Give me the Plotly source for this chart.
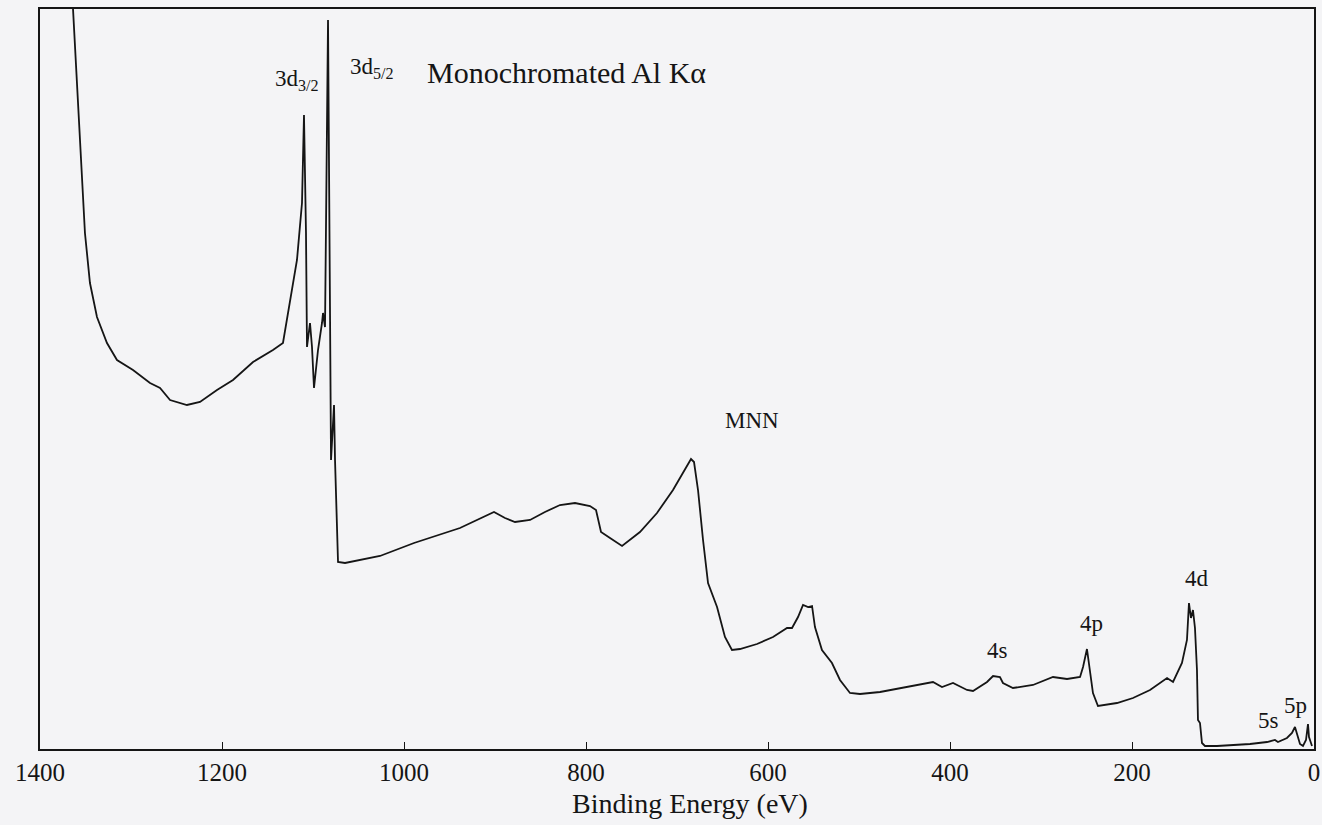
import plotly.graph_objects as go

# Binding energy (eV) and intensity (arb. units)
energy = [1366, 1363.7, 1356.0, 1350.6, 1345.1, 1337.4, 1326.4, 1315.4, 1297.8, 1279.1,
          1268.1, 1257.1, 1238.5, 1224.2, 1205.5, 1187.9, 1165.9, 1144.0, 1133.0, 1125.3,
          1117.6, 1112.1, 1109.9, 1107.7, 1106.6, 1103.3, 1101.1, 1098.9, 1094.5, 1090.1,
          1089.0, 1086.8, 1083.5, 1080.2, 1076.9, 1075.8, 1072.5, 1064.8, 1026.4, 989.0,
          938.5, 901.1, 889.0, 878.0, 861.5, 845.1, 828.6, 812.1, 795.6, 789.0,
          783.5, 773.6, 760.4, 740.7, 722.0, 704.4, 693.4, 684.6, 681.3, 676.9,
          671.4, 665.9, 656.0, 647.3, 639.6, 630.8, 612.1, 594.5, 579.1, 573.6,
          567.0, 561.5, 556.0, 551.6, 548.4, 540.7, 529.7, 520.9, 509.9, 498.9,
          476.9, 447.3, 418.7, 408.8, 396.7, 381.3, 374.7, 359.3, 352.7, 345.1,
          341.8, 330.8, 308.8, 286.8, 271.4, 257.1, 253.8, 249.5, 247.3, 242.9,
          237.4, 216.5, 198.9, 180.2, 161.5, 154.9, 145.1, 139.6, 137.4, 135.2,
          133.0, 130.8, 128.6, 127.5, 125.3, 123.1, 119.8, 106.6, 70.3, 51.6,
          42.9, 39.6, 29.7, 24.2, 20.9, 18.7, 15.4, 12.1, 8.8, 6.6,
          5.5, 2.2]
intensity = [777, 738, 614, 514, 464, 430, 404, 387, 377, 364,
             359, 347, 342, 345, 357, 367, 385, 397, 404, 447,
             487, 544, 632, 514, 400, 424, 400, 359, 397, 424,
             434, 420, 727, 287, 342, 287, 185, 184, 191, 204,
             219, 235, 229, 225, 227, 235, 242, 244, 241, 237,
             215, 209, 201, 215, 234, 257, 274, 288, 285, 257,
             207, 164, 140, 110, 97, 98, 103, 110, 119, 119,
             130, 142, 140, 141, 120, 97, 84, 67, 54, 53,
             55, 60, 65, 60, 64, 57, 56, 65, 71, 70,
             64, 59, 62, 70, 68, 70, 80, 98, 84, 54,
             41, 44, 49, 57, 69, 65, 84, 107, 144, 129,
             137, 119, 77, 27, 24, 4, 1, 1, 3, 5,
             7, 5, 9, 14, 20, 14, 3, 1, 7, 23,
             10, 1]

# Peak labels
label_text = ["3d<sub>3/2</sub>", "3d<sub>5/2</sub>", "MNN", "4s", "4p", "4d", "5s", "5p"]
label_x = [1117.6, 1035.0, 617.6, 347.3, 245.0, 128.6, 49.5, 19.8]
label_y = [667, 679, 327, 97, 124, 169, 27, 42]

title_text = "Monochromated Al Kα"
title_x = 820.9
title_y = 675

tick_vals = [1400, 1200, 1000, 800, 600, 400, 200, 0]
tick_text = [str(v) for v in tick_vals]
x_title = "Binding Energy (eV)"

FONT = "Liberation Serif, Times New Roman, serif"
INK = "#151515"

fig = go.Figure()
fig.add_trace(go.Scatter(x=energy, y=intensity, mode="lines",
                         line=dict(color=INK, width=1.8),
                         showlegend=False, hoverinfo="skip"))

for t, x, y in zip(label_text, label_x, label_y):
    fig.add_annotation(x=x, y=y, text=t, showarrow=False,
                       font=dict(family=FONT, size=23, color=INK))
fig.add_annotation(x=title_x, y=title_y, text=title_text, showarrow=False,
                   font=dict(family=FONT, size=30, color=INK))
fig.add_annotation(x=685.7, xref="x", y=-0.073, yref="paper", yanchor="middle",
                   text=x_title, showarrow=False,
                   font=dict(family=FONT, size=28, color=INK))

fig.update_layout(
    width=1322, height=825,
    margin=dict(l=40, r=8, t=9, b=76),
    paper_bgcolor="#f4f4f6", plot_bgcolor="#f4f4f6",
    font=dict(family=FONT, size=27, color=INK),
    xaxis=dict(range=[1400, 0], tickvals=tick_vals, ticktext=tick_text,
               ticks="inside", ticklen=7, tickwidth=1.4, tickcolor=INK,
               showline=True, linecolor=INK, linewidth=1.8, mirror=True,
               showgrid=False, zeroline=False, automargin=False,
               tickfont=dict(family=FONT, size=25, color=INK)),
    yaxis=dict(range=[-2, 738], showticklabels=False, ticks="",
               showline=True, linecolor=INK, linewidth=1.8, mirror=True,
               showgrid=False, zeroline=False, automargin=False),
)

fig.write_html("out.html",
               config={"displayModeBar": False},
               post_script="document.body.style.margin='0px';"
                           "document.body.style.overflow='hidden';")
